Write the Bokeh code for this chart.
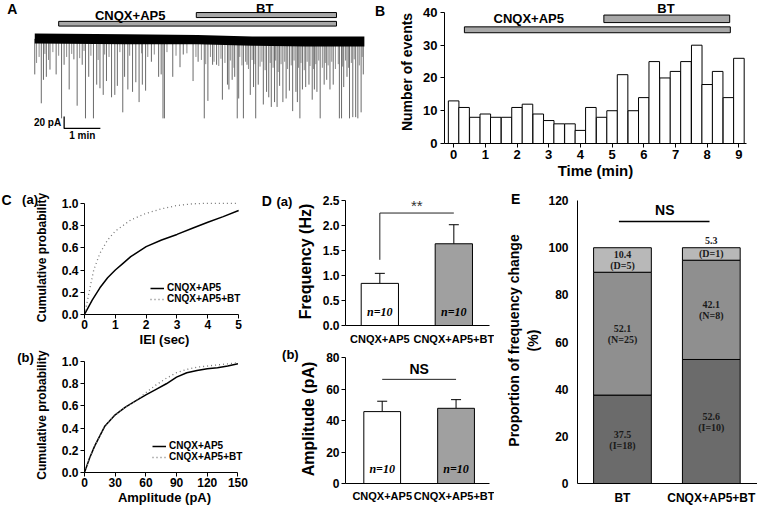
from bokeh.plotting import figure
from bokeh.models import (Range1d, FixedTicker, Label, Legend, LegendItem,
                          ColumnDataSource, Whisker, TeeHead, PrintfTickFormatter)
from bokeh.layouts import row, column
from bokeh.embed import file_html
from bokeh.resources import INLINE
from bokeh.core.properties import value

SX = 757 / 773
SY = 507 / 523
def W(v): return int(round(v * SX))
def H(v): return int(round(v * SY))

SANS = "Liberation Sans"
SERIF = "Liberation Serif"

# ------------------------------------------------------------------ data
# A: raw trace, spontaneous events (time in min, amplitude in pA, downward)
trace_event_min = [0.00,0.18,0.24,0.32,0.42,0.59,0.74,0.81,0.95,1.08,
                   1.17,1.31,1.40,1.49,1.62,1.71,1.80,1.89,1.98,2.12,
                   2.21,2.28,2.43,2.48,2.57,2.70,2.79,2.88,2.97,3.06,
                   3.22,3.42,3.49,3.54,3.58,3.81,4.01,4.10,4.37,4.51,
                   4.68,4.78,4.91,5.02,5.18,5.32,5.36,5.45,5.52,5.59,
                   5.63,5.76,5.86,5.95,6.04,6.10,6.17,6.31,6.40,6.46,
                   6.53,6.62,6.69,6.76,6.85,6.94,7.03,7.12,7.21,7.25,
                   7.32,7.39,7.48,7.57,7.66,7.72,7.79,7.88,7.99,8.06,
                   8.15,8.24,8.41,8.47,8.53,8.62,8.69,8.78,8.86,8.92,
                   9.01,9.07]
trace_event_pA = [59,107,68,63,51,59,132,43,84,34,
                  111,43,132,63,132,76,82,93,70,97,
                  93,78,122,63,84,88,72,105,76,86,
                  38,63,59,132,132,63,47,26,70,38,
                  132,103,43,43,101,76,84,68,63,132,
                  99,132,43,93,80,132,76,109,88,97,
                  113,105,113,78,105,99,86,120,88,105,
                  132,84,80,76,101,84,88,132,76,68,
                  84,76,132,132,80,63,132,130,130,132,
                  122,59]
small_event_min = [0.05,0.12,0.28,0.38,0.5,0.66,0.88,1.02,1.24,1.36,1.55,1.75,
                   1.93,2.05,2.35,2.62,2.95,3.12,3.3,3.65,3.9,4.2,4.45,
                   4.6,4.72,4.85,4.95,5.08,5.14,5.25,5.4,5.5,5.66,
                   5.72,5.82,5.9,6.0,6.08,6.22,6.27,6.36,6.5,6.58,
                   6.65,6.72,6.8,6.9,6.98,7.08,7.16,7.28,7.35,7.44,
                   7.52,7.6,7.7,7.76,7.84,7.94,8.02,8.1,8.2,8.3,
                   8.38,8.5,8.58,8.66,8.74,8.82,8.96,9.04]
small_event_pA = [40,30,25,35,22,28,30,25,32,20,28,35,
                  26,30,22,28,24,30,26,22,28,24,30,
                  35,42,30,38,45,33,40,36,48,30,
                  44,38,50,35,42,46,38,52,40,48,
                  36,55,42,38,50,44,36,48,40,52,
                  38,45,50,42,36,48,40,44,38,50,
                  42,46,36,48,40,34,44,30]
band_min = [0, 2.5, 4.5, 6.0, 7.5, 9.1]
band_top_pA = [8.8, 7.5, 6.3, 3.8, 3.8, 3.8]
band_bottom_pA = [-7.5, -8.8, -8.8, -11.3, -12.5, -12.5]
drug_names = ["CNQX+AP5", "BT"]
trace_drug_start_min = [0.66, 4.46]
trace_drug_end_min = [8.33, 8.33]
scale_bar_pA = 20
scale_bar_min = 1

# B: event histogram (20-s bins)
bin_min = [0, 0.33, 0.67, 1.0, 1.33, 1.67, 2.0, 2.33, 2.67, 3.0, 3.33, 3.67, 4.0, 4.33,
           4.67, 5.0, 5.33, 5.67, 6.0, 6.33, 6.67, 7.0, 7.33, 7.67, 8.0, 8.33, 8.67, 9.0]
n_events = [13, 11, 8, 9, 8, 8, 11, 12, 9, 7, 6, 6, 4, 11,
            8, 10, 21, 10, 14, 25, 20, 22, 25, 30, 18, 22, 14, 26]
hist_drug_start_min = [0.34, 4.74]
hist_drug_end_min = [8.73, 8.71]

# C: cumulative distributions
iei_sec = [0, 0.25, 0.5, 0.75, 1, 1.25, 1.5, 2, 2.5, 3, 3.5, 4, 4.5, 5]
iei_cum_ctrl = [0, 0.13, 0.24, 0.33, 0.40, 0.46, 0.52, 0.61, 0.67, 0.72, 0.775, 0.83, 0.88, 0.935]
iei_sec_bt = [0, 0.1, 0.2, 0.3, 0.5, 0.75, 1, 1.25, 1.5, 2, 2.5, 3, 3.5, 4, 4.5, 5]
iei_cum_bt = [0, 0.13, 0.27, 0.40, 0.55, 0.67, 0.75, 0.80, 0.85, 0.91, 0.95, 0.98, 0.995, 1.0, 1.0, 1.0]
amp_pA = [0, 5, 10, 20, 30, 40, 50, 60, 70, 80, 90, 100, 110, 120, 130, 140, 150]
amp_cum_ctrl = [0, 0.13, 0.24, 0.42, 0.52, 0.59, 0.645, 0.70, 0.75, 0.80, 0.86, 0.90, 0.92, 0.935, 0.945, 0.96, 0.98]
amp_cum_bt = [0, 0.13, 0.24, 0.42, 0.52, 0.59, 0.645, 0.72, 0.79, 0.85, 0.90, 0.93, 0.95, 0.96, 0.97, 0.98, 0.99]
series_names = ["CNQX+AP5", "CNQX+AP5+BT"]

# D: summary bars
groups_d = ["CNQX+AP5", "CNQX+AP5+BT"]
freq_mean = [0.84, 1.63]
freq_sem = [0.20, 0.38]
ampl_mean = [45.7, 47.8]
ampl_sem = [6.6, 5.5]
n_cells = [10, 10]

# E: proportion of frequency change
groups_e = ["BT", "CNQX+AP5+BT"]
pct_I = [37.5, 52.6]
pct_N = [52.1, 42.1]
pct_D = [10.4, 5.3]
cnt_I = [18, 10]
cnt_N = [25, 8]
cnt_D = [5, 1]

# ------------------------------------------------------------------ helpers
def make_fig(w, h, xr, yr, left, right, top, bottom, width_px=None, **kw):
    p = figure(width=width_px if width_px else W(w), height=H(h),
               x_range=Range1d(*xr), y_range=Range1d(*yr),
               output_backend="svg", toolbar_location=None, tools="",
               min_border_left=W(left), min_border_right=W(right),
               min_border_top=H(top), min_border_bottom=H(bottom), **kw)
    p.outline_line_color = None
    p.grid.visible = False
    p.background_fill_color = "white"
    p.border_fill_color = "white"
    return p

def style_axis(ax, ticks, tick_size, label="", label_size="14px",
               tick_out=4, label_standoff=3, axis_standoff=4, bounds=None, fmt=None):
    ax.ticker = FixedTicker(ticks=ticks)
    if fmt:
        ax.formatter = PrintfTickFormatter(format=fmt)
    ax.axis_line_color = "black"
    ax.axis_line_width = 1
    ax.major_tick_line_color = "black"
    ax.major_tick_out = tick_out
    ax.major_tick_in = 0
    ax.minor_tick_line_color = None
    ax.major_label_text_font = SANS
    ax.major_label_text_font_style = "bold"
    ax.major_label_text_font_size = tick_size
    ax.major_label_text_color = "black"
    ax.major_label_standoff = label_standoff
    ax.axis_label = label
    ax.axis_label_text_font = SANS
    ax.axis_label_text_font_style = "bold"
    ax.axis_label_text_font_size = label_size
    ax.axis_label_text_color = "black"
    ax.axis_label_standoff = axis_standoff
    if bounds is not None:
        ax.bounds = bounds

def panel_label(p, x, y, text, size="14px"):
    # placed in the left side panel (data units) so that it is not clipped to the frame
    p.add_layout(Label(x=x, y=y, text=text, text_font=SANS, text_font_size=size,
                       text_font_style="bold", text_align="left",
                       text_baseline="middle", text_color="black"), "left")

# ------------------------------------------------------------------ A
pa = make_fig(380, 190, (-35 / 37, (380 - 35) / 37), ((51 - 190) / 0.8, 51 / 0.8),
              0, 0, 0, 0, x_axis_location=None, y_axis_location=None)
pa.segment(x0=small_event_min, y0=[0] * len(small_event_min), x1=small_event_min,
           y1=[-a for a in small_event_pA], line_color="#8c8c8c", line_width=1)
pa.segment(x0=trace_event_min, y0=[0] * len(trace_event_min), x1=trace_event_min,
           y1=[-a for a in trace_event_pA], line_color="#6a6a6a", line_width=1)
pa.varea(x=band_min, y1=band_bottom_pA, y2=band_top_pA, fill_color="black")
pa.quad(left=trace_drug_start_min, right=trace_drug_end_min,
        bottom=[21.25, 35.4], top=[29.1, 43.75],
        fill_color="#a8a8a8", line_color="black", line_width=1)
pa.text(x=[2.635, 6.35], y=[38.75, 51.25], text=drug_names, text_font=value(SANS),
        text_font_size="13px", text_font_style="bold", text_align="center",
        text_baseline="middle", text_color="black")
sbx = 0.811
sby = -148.75
pa.line(x=[sbx, sbx, sbx + scale_bar_min], y=[sby + scale_bar_pA, sby, sby],
        line_color="black", line_width=1.3)
pa.text(x=[sbx], y=[sby + scale_bar_pA / 2], text=[f"{scale_bar_pA} pA"], x_offset=-3,
        text_font=value(SANS), text_font_size="10px", text_font_style="bold",
        text_align="right", text_baseline="middle", text_color="black")
pa.text(x=[sbx + scale_bar_min / 2], y=[sby], text=[f"{scale_bar_min} min"], y_offset=2,
        text_font=value(SANS), text_font_size="10px", text_font_style="bold",
        text_align="center", text_baseline="top", text_color="black")
pa.text(x=[-0.757], y=[50], text=["A"], text_font=value(SANS), text_font_size="14px",
        text_font_style="bold", text_align="left", text_baseline="middle", text_color="black")

# ------------------------------------------------------------------ B
pb = make_fig(393, 190, (-0.288, 9.24), (0, 43.64), 74, 11, 0, 42.7)
pb.vbar(x=bin_min, width=1 / 3, top=n_events, fill_color="white",
        line_color="black", line_width=1)
pb.quad(left=hist_drug_start_min, right=hist_drug_end_min,
        bottom=[33.8, 36.9], top=[35.6, 39.2],
        fill_color="#a8a8a8", line_color="black", line_width=1)
pb.text(x=[2.37, 6.7], y=[38.2, 41.2], text=drug_names, text_font=value(SANS),
        text_font_size="13px", text_font_style="bold", text_align="center",
        text_baseline="middle", text_color="black")
style_axis(pb.yaxis[0], [0, 10, 20, 30, 40], "13px", "Number of events", "14px",
           label_standoff=3, axis_standoff=5, bounds=(0, 40))
style_axis(pb.xaxis[0], list(range(10)), "13px", "Time (min)", "15px",
           label_standoff=2, axis_standoff=0)
panel_label(pb, -2.484, 40.39, "B")

# ------------------------------------------------------------------ C(a)
pca = make_fig(266, 170, (0, 5.19), (0, 1.025), 86, 16, 16, 31)
r1 = pca.line(iei_sec, iei_cum_ctrl, line_color="black", line_width=1.5)
r2 = pca.line(iei_sec_bt, iei_cum_bt, line_color="#777777", line_width=1.3, line_dash="1 3")
style_axis(pca.yaxis[0], [0, 0.2, 0.4, 0.6, 0.8, 1.0], "12px", "Cumulative probability", "12px",
           label_standoff=2, axis_standoff=10, bounds=(0, 1), fmt="%.1f")
style_axis(pca.xaxis[0], [0, 1, 2, 3, 4, 5], "12px", "IEI (sec)", "13px",
           label_standoff=1, axis_standoff=0, bounds=(0, 5))

def add_legend(p, rs, x, y, spacing_px):
    leg = Legend(items=[LegendItem(label=n, renderers=[r]) for n, r in zip(series_names, rs)],
                 location=(W(x), H(y)), orientation="vertical",
                 border_line_color=None, background_fill_alpha=0,
                 padding=0, margin=0, spacing=0, glyph_width=14, glyph_height=spacing_px,
                 label_height=spacing_px, label_standoff=3,
                 label_text_font=SANS, label_text_font_size="10px",
                 label_text_font_style="bold", label_text_color="black")
    p.add_layout(leg)

add_legend(pca, [r1, r2], 67, 10, 10)
panel_label(pca, -2.69, 1.033, "C")
panel_label(pca, -2.025, 1.033, "(a)", "13px")

# ------------------------------------------------------------------ C(b)
pcb = make_fig(266, 163, (0, 156.4), (0, 1.037), 86, 16, 8, 34)
s1 = pcb.line(amp_pA, amp_cum_ctrl, line_color="black", line_width=1.5)
s2 = pcb.line(amp_pA, amp_cum_bt, line_color="#777777", line_width=1.3, line_dash="1 3")
style_axis(pcb.yaxis[0], [0, 0.2, 0.4, 0.6, 0.8, 1.0], "12px", "Cumulative probability", "12px",
           label_standoff=2, axis_standoff=10, bounds=(0, 1), fmt="%.1f")
style_axis(pcb.xaxis[0], [0, 30, 60, 90, 120, 150], "12px", "Amplitude (pA)", "13px",
           label_standoff=1, axis_standoff=0, bounds=(0, 150))
add_legend(pcb, [s1, s2], 69, 10, 10)
panel_label(pcb, -65.8, 1.041, "(b)", "13px")

# ------------------------------------------------------------------ D(a)
xd = list(range(1, len(groups_d) + 1))
bar_fill = ["white", "#a0a0a0"]
pda = make_fig(239, 168, (0.536, 2.482), (0, 2.553), 87.3, 5, 13, 20.7)
pda.vbar(x=xd, width=0.504, top=freq_mean, fill_color=bar_fill,
         line_color="black", line_width=1)
srcf = ColumnDataSource(dict(x=xd, lower=freq_mean,
                             upper=[m + s for m, s in zip(freq_mean, freq_sem)]))
pda.add_layout(Whisker(base="x", lower="lower", upper="upper", source=srcf,
                       line_color="black", line_width=1, lower_head=None,
                       upper_head=TeeHead(size=10, line_color="black", line_width=1)))
pda.line(x=[xd[0], xd[0], xd[1]], y=[1.31, 2.243, 2.243],
         line_color="#222222", line_width=1)
pda.text(x=[(xd[0] + xd[1]) / 2], y=[2.40], text=["**"], text_font=value(SANS),
         text_font_size="15px", text_align="center", text_baseline="middle",
         text_color="#333333")
pda.text(x=xd, y=[0.27, 0.27], text=[f"n={n}" for n in n_cells], text_font=value(SERIF),
         text_font_size="12px", text_font_style="bold italic", text_align="center",
         text_baseline="middle", text_color="black")
style_axis(pda.yaxis[0], [0, 0.5, 1.0, 1.5, 2.0, 2.5], "12px", "Frequency (Hz)", "16px",
           label_standoff=2, axis_standoff=6, bounds=(0, 2.5), fmt="%.1f")
style_axis(pda.xaxis[0], xd, "11px", "", tick_out=0, label_standoff=7)
pda.xaxis[0].major_label_overrides = {x: g for x, g in zip(xd, groups_d)}
panel_label(pda, -0.595, 2.477, "D")
panel_label(pda, -0.397, 2.477, "(a)", "13px")

# ------------------------------------------------------------------ D(b)
pdb = make_fig(239, 165, (0.503, 2.453), (0, 82.0), 81.3, 5, 7, 24.7)
pdb.vbar(x=xd, width=0.498, top=ampl_mean, fill_color=bar_fill,
         line_color="black", line_width=1)
srca = ColumnDataSource(dict(x=xd, lower=ampl_mean,
                             upper=[m + s for m, s in zip(ampl_mean, ampl_sem)]))
pdb.add_layout(Whisker(base="x", lower="lower", upper="upper", source=srca,
                       line_color="black", line_width=1, lower_head=None,
                       upper_head=TeeHead(size=10, line_color="black", line_width=1)))
pdb.line(x=[xd[0], xd[1]], y=[66.2, 66.2], line_color="#222222", line_width=1)
pdb.text(x=[(xd[0] + xd[1]) / 2], y=[72.8], text=["NS"], text_font=value(SANS),
         text_font_size="14px", text_font_style="bold", text_align="center",
         text_baseline="middle", text_color="black")
pdb.text(x=xd, y=[9.2, 9.2], text=[f"n={n}" for n in n_cells], text_font=value(SERIF),
         text_font_size="12px", text_font_style="bold italic", text_align="center",
         text_baseline="middle", text_color="black")
style_axis(pdb.yaxis[0], [0, 20, 40, 60, 80], "12px", "Amplitude (pA)", "16px",
           label_standoff=2, axis_standoff=6, bounds=(0, 80))
style_axis(pdb.xaxis[0], xd, "11px", "", tick_out=0, label_standoff=6)
pdb.xaxis[0].major_label_overrides = {x: g for x, g in zip(xd, groups_d)}
panel_label(pdb, -0.356, 82.3, "(b)", "13px")

# ------------------------------------------------------------------ E
xe = list(range(1, len(groups_e) + 1))
e_width = 757 - W(266) - W(239)
pe = make_fig(268, 333, (0.494, 2.52), (0, 121.3), 81, 0, 13, 20.7, width_px=e_width)
bot_N = pct_I
bot_D = [a + b for a, b in zip(pct_I, pct_N)]
top_D = [a + b for a, b in zip(bot_D, pct_D)]
pe.vbar(x=xe, width=0.65, bottom=[0, 0], top=pct_I, fill_color="#6b6b6b",
        line_color="black", line_width=1)
pe.vbar(x=xe, width=0.65, bottom=bot_N, top=bot_D, fill_color="#8f8f8f",
        line_color="black", line_width=1)
pe.vbar(x=xe, width=0.65, bottom=bot_D, top=top_D, fill_color="#b8b8b8",
        line_color="black", line_width=1)

tx, ty, tt, toff = [], [], [], []
for i, x in enumerate(xe):
    segs = [(0, pct_I[i], "I", cnt_I[i]), (bot_N[i], pct_N[i], "N", cnt_N[i]),
            (bot_D[i], pct_D[i], "D", cnt_D[i])]
    for b, v, k, n in segs:
        mid = b + v / 2
        if v < 8:
            tx += [x, x]; ty += [b + v, mid]; tt += [f"{v}", f"({k}={n})"]; toff += [-7, 0]
        else:
            tx += [x, x]; ty += [mid, mid]; tt += [f"{v}", f"({k}={n})"]; toff += [-5, 6]
pe.text(x=tx, y=ty, text=tt, y_offset=toff, text_font=value(SERIF), text_font_size="10px",
        text_font_style="bold", text_align="center", text_baseline="middle",
        text_color="#1a1a1a")
pe.line(x=[0.96, 1.98], y=[111.1, 111.1], line_color="black", line_width=1.5)
pe.text(x=[1.476], y=[115.8], text=["NS"], text_font=value(SANS),
        text_font_size="14px", text_font_style="bold", text_align="center",
        text_baseline="middle", text_color="black")
style_axis(pe.yaxis[0], [0, 20, 40, 60, 80, 100, 120], "12px",
           "Proportion of frequency change\n(%)", "14px",
           tick_out=0, label_standoff=9, axis_standoff=4, bounds=(0, 120))
style_axis(pe.xaxis[0], xe, "12px", "", tick_out=0, label_standoff=7)
pe.xaxis[0].major_label_overrides = {x: g for x, g in zip(xe, groups_e)}
panel_label(pe, -0.254, 120.5, "E")

# ------------------------------------------------------------------ layout
layout = column(row(pa, pb),
                row(column(pca, pcb), column(pda, pdb), pe))

open("out.html", "w").write(file_html(layout, INLINE))
